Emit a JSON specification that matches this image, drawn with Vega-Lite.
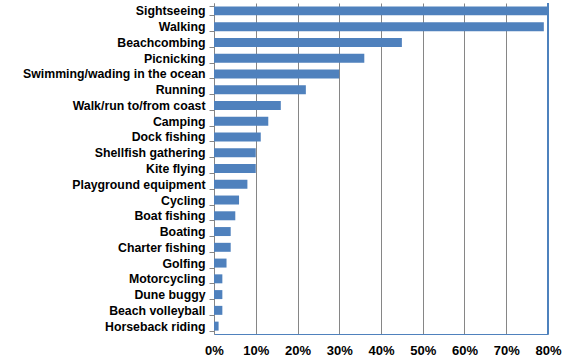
{
  "$schema": "https://vega.github.io/schema/vega-lite/v6.json",
  "width": 334,
  "height": 331,
  "autosize": "none",
  "padding": {"left": 214, "top": 3, "right": 22, "bottom": 26},
  "background": "white",
  "config": {"view": {"stroke": null}, "font": "Liberation Sans"},
  "data": {"values": [
    {"activity": "Sightseeing", "pct": 0.80},
    {"activity": "Walking", "pct": 0.79},
    {"activity": "Beachcombing", "pct": 0.45},
    {"activity": "Picnicking", "pct": 0.36},
    {"activity": "Swimming/wading in the ocean", "pct": 0.30},
    {"activity": "Running", "pct": 0.22},
    {"activity": "Walk/run to/from coast", "pct": 0.16},
    {"activity": "Camping", "pct": 0.13},
    {"activity": "Dock fishing", "pct": 0.112},
    {"activity": "Shellfish gathering", "pct": 0.10},
    {"activity": "Kite flying", "pct": 0.10},
    {"activity": "Playground equipment", "pct": 0.08},
    {"activity": "Cycling", "pct": 0.06},
    {"activity": "Boat fishing", "pct": 0.051},
    {"activity": "Boating", "pct": 0.04},
    {"activity": "Charter fishing", "pct": 0.04},
    {"activity": "Golfing", "pct": 0.03},
    {"activity": "Motorcycling", "pct": 0.02},
    {"activity": "Dune buggy", "pct": 0.02},
    {"activity": "Beach volleyball", "pct": 0.02},
    {"activity": "Horseback riding", "pct": 0.011}
  ]},
  "layer": [
    {
      "mark": {"type": "bar", "color": "#4F81BD"},
      "encoding": {
        "y": {
          "field": "activity",
          "type": "nominal",
          "sort": null,
          "scale": {"paddingInner": 0.43, "paddingOuter": 0.215},
          "axis": {
            "title": null,
            "domainColor": "#868686",
            "tickColor": "#868686",
            "tickSize": 5,
            "tickBand": "extent",
            "grid": false,
            "labelFontWeight": "bold",
            "labelFontSize": 12.3,
            "labelColor": "#000000",
            "labelLimit": 0,
            "labelPadding": 4
          }
        },
        "x": {
          "field": "pct",
          "type": "quantitative",
          "scale": {"domain": [0, 0.8], "nice": false},
          "axis": {
            "title": null,
            "format": ".0%",
            "values": [0, 0.1, 0.2, 0.3, 0.4, 0.5, 0.6, 0.7, 0.8],
            "grid": true,
            "gridColor": "#868686",
            "gridOpacity": 1,
            "domainColor": "#4F81BD",
            "ticks": false,
            "labelFlush": false,
            "labelOverlap": false,
            "labelFontWeight": "bold",
            "labelFontSize": 13,
            "labelColor": "#000000",
            "labelPadding": 10
          }
        }
      }
    },
    {
      "mark": {"type": "rule", "color": "#4F81BD", "strokeWidth": 1},
      "encoding": {"x": {"datum": 0.8}}
    }
  ]
}
